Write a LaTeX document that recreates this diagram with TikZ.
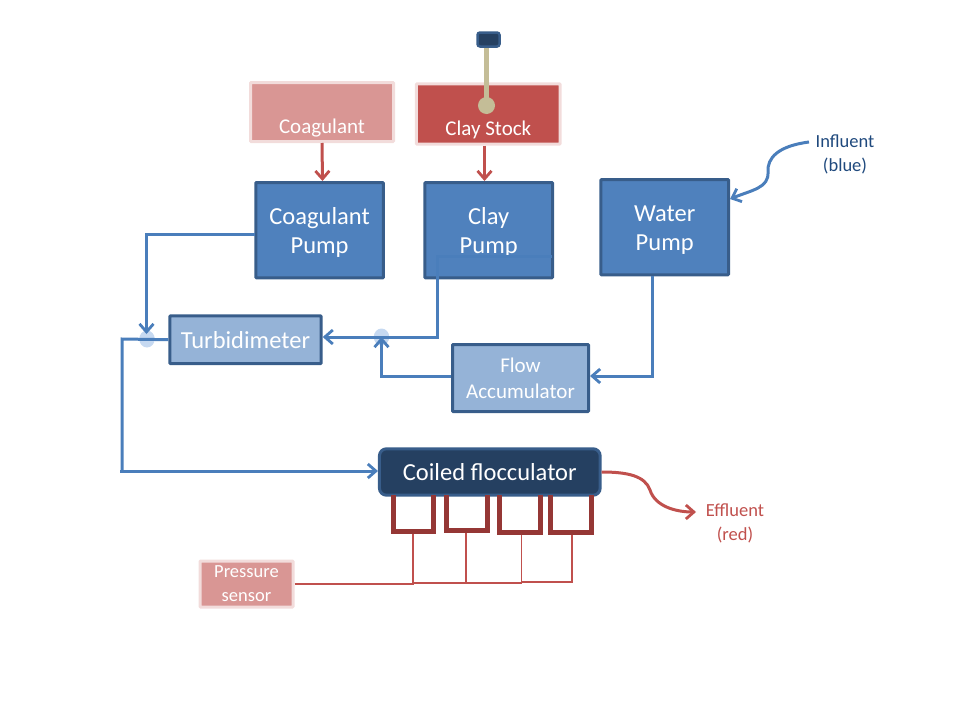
\documentclass[tikz,border=0pt]{standalone}
\usepackage{fontspec}
\setmainfont{Carlito}
\usetikzlibrary{arrows.meta,shapes.geometric}
\definecolor{bluefill}{HTML}{4F81BD}
\definecolor{blueline}{HTML}{4A7EBB}
\definecolor{blueedge}{HTML}{385D8A}
\definecolor{lightfill}{HTML}{95B3D7}
\definecolor{navyfill}{HTML}{254061}
\definecolor{navytext}{HTML}{1F497D}
\definecolor{redfill}{HTML}{C0504D}
\definecolor{darkred}{HTML}{953735}
\definecolor{pinkfill}{HTML}{D99694}
\definecolor{pinkedge}{HTML}{F2DCDB}
\definecolor{tan}{HTML}{C4BD97}
\definecolor{jointfill}{HTML}{C6D9F1}
\newcommand{\pumpstrut}{\rule{0pt}{21.5pt}}
\tikzset{
  boxbase/.style={rectangle,inner sep=0pt,line width=3pt,text=white,align=center,rounded corners=0.8pt},
  pumpbox/.style={boxbase,fill=bluefill,draw=blueedge,font=\fontsize{24.5}{29}\selectfont,minimum width=127.7pt,minimum height=95.3pt},
  lightbox/.style={boxbase,fill=lightfill,draw=blueedge},
  stockbox/.style={boxbase,draw=pinkedge,font=\fontsize{21}{25}\selectfont},
  bluearrow/.style={draw=blueline,line width=3pt,-{Straight Barb[length=8pt,width=14pt,line width=2.8pt]}},
  bluepath/.style={draw=blueline,line width=3pt},
  redarrow/.style={draw=redfill,line width=3pt,-{Straight Barb[length=8pt,width=14pt,line width=2.8pt]}},
  sensorline/.style={draw=redfill,line width=1.7pt},
  coil/.style={draw=darkred,line width=5.3pt,line cap=butt},
  joint/.style={ellipse,fill=jointfill,inner sep=0pt,minimum width=15.5pt,minimum height=17pt},
  sidelabel/.style={font=\fontsize{18.5}{24}\selectfont,align=center},
}
\begin{document}
\begin{tikzpicture}[x=1pt,y=-1pt]
\useasboundingbox (0,0) rectangle (960,720);
% boxes
\node[stockbox,fill=pinkfill,minimum width=143pt,minimum height=59pt,text height=42pt,text depth=0pt] (coagstock) at (322,112) {Coagulant};
\node[stockbox,fill=redfill,minimum width=143.7pt,minimum height=60.4pt,text height=43pt,text depth=0pt] (claystock) at (488.3,114) {Clay Stock};
\node[pumpbox] (coagpump) at (319.6,230.2) {\pumpstrut Coagulant\\Pump};
\node[pumpbox] (claypump) at (488.7,230.2) {\pumpstrut Clay\\Pump};
\node[pumpbox] (waterpump) at (664.7,227.2) {\pumpstrut Water\\Pump};
\node[lightbox,font=\fontsize{24.5}{29}\selectfont,minimum width=151.4pt,minimum height=47.7pt] (turb) at (245.5,339.7) {Turbidimeter};
\node[lightbox,font=\fontsize{21}{26}\selectfont,minimum width=136pt,minimum height=67pt] (flow) at (520.5,378) {Flow\\Accumulator};
\node[boxbase,fill=navyfill,draw=blueedge,rounded corners=7pt,font=\fontsize{24.5}{29}\selectfont,minimum width=220.7pt,minimum height=46.4pt] (coiled) at (489.8,472) {Coiled flocculator};
\node[boxbase,fill=pinkfill,draw=pinkedge,font=\fontsize{18.5}{24}\selectfont,minimum width=93pt,minimum height=46pt] (sensor) at (246.5,584) {Pressure\\sensor};
% joints
\node[joint] (jointa) at (147,339) {};
\node[joint] (jointb) at (381.5,337) {};
% stirrer
\node[circle,fill=tan,inner sep=0pt,minimum size=17pt] (bob) at (486.5,105.5) {};
\node[rectangle,fill=navyfill,draw=blueedge,line width=2.5pt,rounded corners=2.5pt,inner sep=0pt,minimum width=22pt,minimum height=14pt] (grip) at (488.5,39.5) {};
\draw[tan,line width=5.5pt] (bob.center) -- (486.5,0 |- grip.south);
% labels
\node[sidelabel,text=navytext] (influent) at (845,154) {Influent\\(blue)};
\node[sidelabel,text=redfill] (effluent) at (735,523.5) {Effluent\\(red)};
% coordinates
\coordinate (infstart) at (809,142);
\coordinate (effend) at (696,512);
\coordinate (clayout) at (552,256);
\coordinate (claycorner) at (437,256);
\coordinate (claylow) at (437,337);
\coordinate (coagout) at (254.5,234);
\coordinate (coagcorner) at (146.5,234);
\coordinate (coagtip) at (146.5,334);
\coordinate (turbcorner) at (122,339);
\coordinate (turblow) at (122,471);
\coordinate (mainstart) at (120,471);
\coordinate (flowcorner) at (381.5,376);
\coordinate (watercorner) at (652,376);
% red arrows
\draw[redarrow] (coagstock.south) -- (322.5,181);
\draw[redarrow] (484.5,0 |- claystock.south) -- (484.5,181);
% blue connectors
\draw[bluearrow] (coagout) -- (coagcorner) -- (coagtip);
\draw[bluearrow] (clayout) -- (claycorner) -- (claylow) -- (turb.east |- claylow);
\draw[bluearrow] (watercorner |- waterpump.south) -- (watercorner) -- (flow.east |- watercorner);
\draw[bluearrow] (flow.west |- flowcorner) -- (flowcorner) -- (jointb.center);
\draw[bluepath] (turb.west) -- (turbcorner) -- (turblow);
\draw[bluearrow] (mainstart) -- (coiled.west |- mainstart);
\draw[bluearrow] (infstart) .. controls (778,146) and (767,158) .. (768,172) .. controls (769,188) and (752,190) .. (730,199);
\draw[redarrow] (coiled.east) .. controls (628,472) and (645,476) .. (650,490) .. controls (655,506) and (675,512) .. (effend);
% coils
\draw[coil] (393.5,495) -- (393.5,531.5) -- (433.5,531.5) -- (433.5,495);
\draw[coil] (446.5,495) -- (446.5,530.5) -- (487.5,530.5) -- (487.5,495);
\draw[coil] (499.5,495) -- (499.5,532.5) -- (540.5,532.5) -- (540.5,495);
\draw[coil] (550.5,495) -- (550.5,532.5) -- (591.5,532.5) -- (591.5,495);
% sensor lines
\draw[sensorline] (sensor.east) -- (413,584) -- (413,534);
\draw[sensorline] (413,583) -- (466,583) -- (466,533);
\draw[sensorline] (466,583) -- (521.5,583) -- (521.5,535);
\draw[sensorline] (521.5,582) -- (572,582) -- (572,535);
\end{tikzpicture}
\end{document}
